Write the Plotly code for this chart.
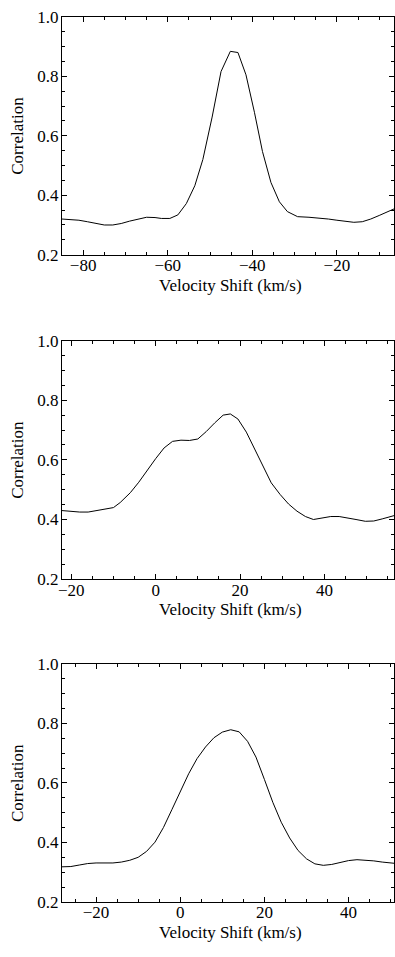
import plotly.graph_objects as go

# Panel 1
v1 = [-85, -83, -81, -79, -77, -75, -73, -71, -69, -67, -65, -63, -61.5, -59.5, -57.6, -55.6,
      -53.6, -51.7, -49.5, -47.4, -45.2, -43.4, -41.5, -39.5, -37.6, -35.6, -33.6, -31.7, -29.3,
      -26.6, -24, -22, -20, -18, -16, -14, -12, -10, -8, -6.5]
c1 = [0.320, 0.319, 0.316, 0.311, 0.305, 0.300, 0.300, 0.305, 0.313, 0.320, 0.326, 0.325, 0.322,
      0.322, 0.334, 0.372, 0.432, 0.520, 0.663, 0.816, 0.884, 0.880, 0.805, 0.679, 0.547, 0.443,
      0.378, 0.345, 0.328, 0.326, 0.324, 0.320, 0.316, 0.312, 0.309, 0.311, 0.320, 0.332, 0.346, 0.354]

# Panel 2
v2 = [-22.2, -20, -18, -16, -14, -12, -10, -8.4, -6, -4, -2, 0, 2, 4, 6, 8, 10, 12, 14, 16, 17.7,
      19.5, 21.5, 23.4, 25.4, 27.4, 29.5, 31.5, 33.5, 35.5, 37.4, 39.5, 41.5, 43.5, 45.5, 47.5,
      49.7, 51.7, 53.7, 56.5]
c2 = [0.430, 0.427, 0.425, 0.425, 0.430, 0.434, 0.440, 0.457, 0.490, 0.525, 0.565, 0.604, 0.640,
      0.662, 0.666, 0.665, 0.670, 0.695, 0.724, 0.750, 0.754, 0.737, 0.693, 0.639, 0.578, 0.523,
      0.484, 0.452, 0.428, 0.410, 0.400, 0.404, 0.410, 0.410, 0.406, 0.400, 0.394, 0.395, 0.402, 0.413]

# Panel 3
v3 = [-28.1, -26, -24, -22, -20, -18, -16, -14, -12, -10, -8, -6, -4, -2, 0, 2, 4, 6, 8, 10, 12,
      14, 16, 18, 20, 22, 24, 26, 28, 30, 32, 34, 36, 38, 40, 42, 44, 46, 48, 50.8]
c3 = [0.318, 0.319, 0.324, 0.329, 0.331, 0.331, 0.331, 0.334, 0.340, 0.350, 0.370, 0.401, 0.450,
      0.510, 0.570, 0.631, 0.682, 0.721, 0.752, 0.771, 0.779, 0.772, 0.740, 0.687, 0.612, 0.535,
      0.468, 0.415, 0.373, 0.345, 0.328, 0.323, 0.326, 0.333, 0.339, 0.342, 0.341, 0.338, 0.334, 0.330]

x_ranges = [[-85, -6.5], [-22.2, 56.5], [-28.1, 50.8]]
y_range = [0.2, 1.0]
x_title = "Velocity Shift (km/s)"
y_title = "Correlation"

W, H = 395, 957
tops = [8, 338.3, 668.3]
bottoms = [250.7, 581.7, 911]

FONT = dict(family="Liberation Serif", size=17, color="black")

fig = go.Figure()
series = [(v1, c1), (v2, c2), (v3, c3)]
for i, (vx, cy) in enumerate(series):
    sfx = "" if i == 0 else str(i + 1)
    fig.add_trace(go.Scatter(x=vx, y=cy, mode="lines", line=dict(color="black", width=1),
                             xaxis="x" + sfx, yaxis="y" + sfx, showlegend=False,
                             hoverinfo="skip"))

annotations = []
layout = dict(
    width=W, height=H,
    margin=dict(l=62, r=0, t=0, b=0),
    paper_bgcolor="white", plot_bgcolor="white",
    font=FONT, showlegend=False,
)
for i in range(3):
    sfx = "" if i == 0 else str(i + 1)
    ydom = [1 - bottoms[i] / H, 1 - tops[i] / H]
    layout["xaxis" + sfx] = dict(
        domain=[0, 1], anchor="y" + sfx, range=x_ranges[i],
        showline=True, linecolor="black", linewidth=1, mirror="allticks",
        ticks="inside", ticklen=5, tickwidth=1, tickcolor="black", dtick=20, tick0=0,
        minor=dict(ticks="inside", ticklen=3, tickwidth=1, tickcolor="black", dtick=5),
        showgrid=False, zeroline=False, tickfont=FONT, ticklabelstandoff=-5,
    )
    layout["yaxis" + sfx] = dict(
        domain=ydom, anchor="x" + sfx, range=y_range,
        showline=True, linecolor="black", linewidth=1, mirror="allticks",
        ticks="inside", ticklen=5, tickwidth=1, tickcolor="black", dtick=0.2, tick0=0,
        tickformat=".1f",
        minor=dict(ticks="inside", ticklen=3, tickwidth=1, tickcolor="black", dtick=0.05),
        showgrid=False, zeroline=False, tickfont=FONT, ticklabelstandoff=-1,
    )
    annotations.append(dict(text=x_title, xref="paper", yref="paper", x=0.5, y=ydom[0],
                            xanchor="center", yanchor="middle", yshift=-30.5, xshift=2,
                            showarrow=False, font=FONT))
    annotations.append(dict(text=y_title, xref="paper", yref="paper", x=0,
                            y=(ydom[0] + ydom[1]) / 2, xanchor="center", yanchor="middle",
                            xshift=-44, textangle=-90, showarrow=False, font=FONT))
layout["annotations"] = annotations
fig.update_layout(**layout)
fig.write_html("out.html")
